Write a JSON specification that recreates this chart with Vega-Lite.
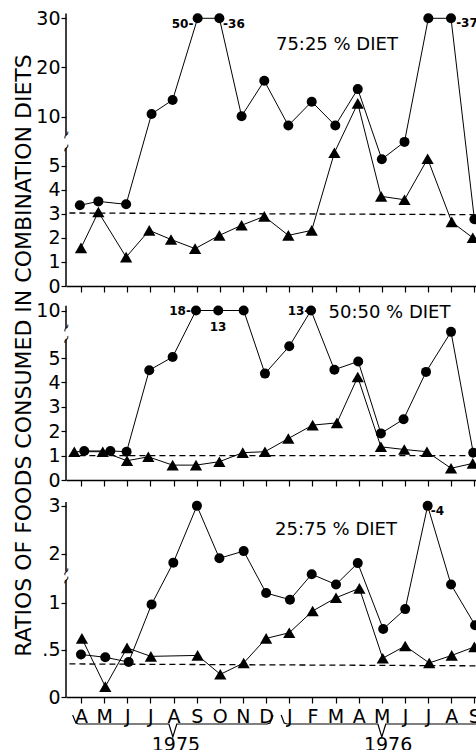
{
"$schema": "https://vega.github.io/schema/vega-lite/v6.json",
"autosize": {"type": "pad"},
"padding": {"left": 11, "top": 9, "right": 0, "bottom": 0},
"background": "white",
"spacing": 10,
"bounds": "flush",
"config": {
 "view": {"stroke": null},
 "font": "DejaVu Sans",
 "axis": {"grid": false, "labelFont": "DejaVu Sans", "titleFont": "DejaVu Sans", "labelColor": "black", "titleColor": "black", "tickColor": "black", "domainColor": "black", "labelFontSize": 19, "tickWidth": 1.2, "labelSeparation": 0},
 "axisX": {"tickSize": 6, "domainWidth": 1.5, "labelPadding": 4},
 "axisY": {"tickSize": 5, "domain": false, "labelPadding": 1}
},
"datasets": {
 "pts": [
  {"p":1,"s":"c","x":-0.05,"v":3.35},{"p":1,"s":"c","x":0.75,"v":3.51},{"p":1,"s":"c","x":1.95,"v":3.39},{"p":1,"s":"c","x":3.05,"v":10.55},{"p":1,"s":"c","x":3.96,"v":13.4},{"p":1,"s":"c","x":5.04,"v":30},{"p":1,"s":"c","x":5.98,"v":30},{"p":1,"s":"c","x":6.94,"v":10.1},{"p":1,"s":"c","x":7.92,"v":17.3},{"p":1,"s":"c","x":8.96,"v":8.2},{"p":1,"s":"c","x":9.97,"v":13.05},{"p":1,"s":"c","x":10.99,"v":8.2},{"p":1,"s":"c","x":11.96,"v":15.6},{"p":1,"s":"c","x":13.0,"v":5.26},{"p":1,"s":"c","x":13.98,"v":5.98},{"p":1,"s":"c","x":15.01,"v":30},{"p":1,"s":"c","x":15.99,"v":30},{"p":1,"s":"c","x":17.0,"v":2.77},
  {"p":1,"s":"t","x":0,"v":1.58},{"p":1,"s":"t","x":0.75,"v":3.07},{"p":1,"s":"t","x":1.95,"v":1.2},{"p":1,"s":"t","x":2.95,"v":2.31},{"p":1,"s":"t","x":3.89,"v":1.93},{"p":1,"s":"t","x":4.93,"v":1.55},{"p":1,"s":"t","x":5.98,"v":2.1},{"p":1,"s":"t","x":6.94,"v":2.52},{"p":1,"s":"t","x":7.92,"v":2.89},{"p":1,"s":"t","x":8.96,"v":2.1},{"p":1,"s":"t","x":9.97,"v":2.31},{"p":1,"s":"t","x":10.95,"v":5.53},{"p":1,"s":"t","x":11.96,"v":12.7},{"p":1,"s":"t","x":12.97,"v":3.72},{"p":1,"s":"t","x":13.98,"v":3.58},{"p":1,"s":"t","x":14.98,"v":5.28},{"p":1,"s":"t","x":16.02,"v":2.66},{"p":1,"s":"t","x":16.93,"v":2.0},
  {"p":2,"s":"c","x":0.14,"v":1.19},{"p":2,"s":"c","x":1.27,"v":1.19},{"p":2,"s":"c","x":1.97,"v":1.16},{"p":2,"s":"c","x":2.95,"v":4.5},{"p":2,"s":"c","x":3.96,"v":5.04},{"p":2,"s":"c","x":4.97,"v":10},{"p":2,"s":"c","x":5.93,"v":10},{"p":2,"s":"c","x":7.03,"v":10},{"p":2,"s":"c","x":7.95,"v":4.36},{"p":2,"s":"c","x":9.0,"v":5.48},{"p":2,"s":"c","x":9.94,"v":10},{"p":2,"s":"c","x":10.95,"v":4.52},{"p":2,"s":"c","x":11.98,"v":4.86},{"p":2,"s":"c","x":12.96,"v":1.91},{"p":2,"s":"c","x":13.94,"v":2.49},{"p":2,"s":"c","x":14.91,"v":4.43},{"p":2,"s":"c","x":15.99,"v":6.3},{"p":2,"s":"c","x":16.95,"v":1.12},
  {"p":2,"s":"t","x":-0.29,"v":1.16},{"p":2,"s":"t","x":0.94,"v":1.16},{"p":2,"s":"t","x":1.99,"v":0.79},{"p":2,"s":"t","x":2.91,"v":0.95},{"p":2,"s":"t","x":3.96,"v":0.61},{"p":2,"s":"t","x":4.97,"v":0.61},{"p":2,"s":"t","x":5.98,"v":0.75},{"p":2,"s":"t","x":6.99,"v":1.12},{"p":2,"s":"t","x":7.95,"v":1.16},{"p":2,"s":"t","x":8.96,"v":1.7},{"p":2,"s":"t","x":10.01,"v":2.25},{"p":2,"s":"t","x":11.06,"v":2.34},{"p":2,"s":"t","x":11.96,"v":4.22},{"p":2,"s":"t","x":12.96,"v":1.36},{"p":2,"s":"t","x":13.97,"v":1.25},{"p":2,"s":"t","x":14.95,"v":1.16},{"p":2,"s":"t","x":15.99,"v":0.48},{"p":2,"s":"t","x":16.93,"v":0.68},
  {"p":3,"s":"c","x":0,"v":0.45},{"p":3,"s":"c","x":1.05,"v":0.42},{"p":3,"s":"c","x":2.06,"v":0.37},{"p":3,"s":"c","x":3.05,"v":0.98},{"p":3,"s":"c","x":3.99,"v":1.82},{"p":3,"s":"c","x":5.01,"v":3.0},{"p":3,"s":"c","x":5.98,"v":1.91},{"p":3,"s":"c","x":7.03,"v":2.06},{"p":3,"s":"c","x":8.0,"v":1.1},{"p":3,"s":"c","x":9.03,"v":1.03},{"p":3,"s":"c","x":9.97,"v":1.48},{"p":3,"s":"c","x":11.02,"v":1.19},{"p":3,"s":"c","x":11.96,"v":1.81},{"p":3,"s":"c","x":13.06,"v":0.72},{"p":3,"s":"c","x":14.01,"v":0.93},{"p":3,"s":"c","x":14.98,"v":3.0},{"p":3,"s":"c","x":15.99,"v":1.19},{"p":3,"s":"c","x":17.03,"v":0.76},
  {"p":3,"s":"t","x":0.04,"v":0.62},{"p":3,"s":"t","x":1.05,"v":0.11},{"p":3,"s":"t","x":1.99,"v":0.52},{"p":3,"s":"t","x":3.02,"v":0.43},{"p":3,"s":"t","x":5.04,"v":0.44},{"p":3,"s":"t","x":6.02,"v":0.24},{"p":3,"s":"t","x":7.03,"v":0.36},{"p":3,"s":"t","x":8.0,"v":0.62},{"p":3,"s":"t","x":9.0,"v":0.68},{"p":3,"s":"t","x":10.01,"v":0.91},{"p":3,"s":"t","x":11.02,"v":1.05},{"p":3,"s":"t","x":12.03,"v":1.15},{"p":3,"s":"t","x":13.04,"v":0.41},{"p":3,"s":"t","x":14.01,"v":0.54},{"p":3,"s":"t","x":15.05,"v":0.36},{"p":3,"s":"t","x":16.02,"v":0.44},{"p":3,"s":"t","x":17.0,"v":0.53}
 ],
 "ref": [
  {"p":1,"x":-0.5,"v":3.03},{"p":1,"x":17.11,"v":2.96},
  {"p":2,"x":-0.5,"v":1.0},{"p":2,"x":17.11,"v":1.0},
  {"p":3,"x":-0.5,"v":0.35},{"p":3,"x":17.11,"v":0.33}
 ],
 "seg": [
  {"p":1,"lo":0,"hi":5.73},{"p":1,"lo":6.86,"hi":31.0},
  {"p":2,"lo":0,"hi":5.76},{"p":2,"lo":6.97,"hi":10.8},
  {"p":3,"lo":0,"hi":1.31},{"p":3,"lo":1.56,"hi":3.08}
 ],
 "brk": [
  {"p":1,"v":5.73},{"p":1,"v":6.86},
  {"p":2,"v":5.76},{"p":2,"v":6.97},
  {"p":3,"v":1.31},{"p":3,"v":1.56}
 ],
 "num": [
  {"p":1,"label":"50-","x":4.39,"v":28.8},{"p":1,"label":"-36","x":6.61,"v":28.8},{"p":1,"label":"-37","x":16.68,"v":29.0},
  {"p":2,"label":"18-","x":4.28,"v":10},{"p":2,"label":"13","x":5.92,"v":7.2},{"p":2,"label":"13-","x":9.4,"v":10},
  {"p":3,"label":"-4","x":15.4,"v":2.9}
 ],
 "diet": [
  {"p":1,"label":"75:25 % DIET","x":11.06,"v":24.6},
  {"p":2,"label":"50:50 % DIET","x":13.33,"v":9.57},
  {"p":3,"label":"25:75 % DIET","x":11.02,"v":2.5}
 ],
 "brace": [
  {"b":"1975","o":1,"x":-0.36,"v":0.84},{"b":"1975","o":2,"x":-0.22,"v":0.68},{"b":"1975","o":3,"x":-0.1,"v":0.66},{"b":"1975","o":4,"x":3.8,"v":0.66},{"b":"1975","o":5,"x":3.97,"v":0.4},{"b":"1975","o":6,"x":4.14,"v":0.66},{"b":"1975","o":7,"x":8.05,"v":0.66},{"b":"1975","o":8,"x":8.17,"v":0.68},{"b":"1975","o":9,"x":8.3,"v":0.84},
  {"b":"1976","o":1,"x":8.65,"v":0.84},{"b":"1976","o":2,"x":8.78,"v":0.68},{"b":"1976","o":3,"x":8.9,"v":0.66},{"b":"1976","o":4,"x":12.83,"v":0.66},{"b":"1976","o":5,"x":13.0,"v":0.4},{"b":"1976","o":6,"x":13.17,"v":0.66},{"b":"1976","o":7,"x":17.5,"v":0.66}
 ],
 "years": [
  {"label":"1975","x":4.1,"v":0.24},{"label":"1976","x":13.27,"v":0.24}
 ]
},
"vconcat": [
 {
  "width": 411, "height": 274,
  "layer": [
   {"data":{"name":"pts"},"transform":[{"filter":"datum.p==1"}],"mark":{"type":"line","strokeWidth":1,"color":"black","clip":true},
    "encoding":{
     "x":{"field":"x","type":"quantitative","scale":{"domain":[-0.648,17.113],"nice":false,"zero":false},"axis":{"values":[0,1,2,3,4,5,6,7,8,9,10,11,12,13,14,15,16,17],"labels":false,"labelOverlap":false,"labelFlush":false,"title":null}},
     "y":{"field":"v","type":"quantitative","scale":{"domain":[0,6,8,31.28],"range":[274,129.4,114.5,0],"nice":false,"zero":false},"axis":{"values":[0,1,2,3,4,5,10,20,30],"labelOverlap":false,"title":null}},
     "detail":{"field":"s"}}},
   {"data":{"name":"seg"},"transform":[{"filter":"datum.p==1"}],"mark":{"type":"rule","strokeWidth":1.5,"color":"black"},
    "encoding":{"x":{"datum":-0.648,"type":"quantitative","axis":{"values":[0,1,2,3,4,5,6,7,8,9,10,11,12,13,14,15,16,17],"labels":false,"labelOverlap":false,"labelFlush":false,"title":null}},"y":{"field":"lo","type":"quantitative","axis":{"values":[0,1,2,3,4,5,10,20,30],"labelOverlap":false,"title":null}},"y2":{"field":"hi"}}},
   {"data":{"name":"brk"},"transform":[{"filter":"datum.p==1"}],"mark":{"type":"text","text":"~","fontSize":12,"angle":300,"color":"black"},
    "encoding":{"x":{"datum":-0.648,"type":"quantitative","axis":{"values":[0,1,2,3,4,5,6,7,8,9,10,11,12,13,14,15,16,17],"labels":false,"labelOverlap":false,"labelFlush":false,"title":null}},"y":{"field":"v","type":"quantitative","axis":{"values":[0,1,2,3,4,5,10,20,30],"labelOverlap":false,"title":null}}}},
   {"data":{"name":"ref"},"transform":[{"filter":"datum.p==1"}],"mark":{"type":"line","strokeDash":[6,4],"strokeWidth":1.3,"color":"black"},
    "encoding":{"x":{"field":"x","type":"quantitative","axis":{"values":[0,1,2,3,4,5,6,7,8,9,10,11,12,13,14,15,16,17],"labels":false,"labelOverlap":false,"labelFlush":false,"title":null}},"y":{"field":"v","type":"quantitative","axis":{"values":[0,1,2,3,4,5,10,20,30],"labelOverlap":false,"title":null}}}},
   {"data":{"name":"pts"},"transform":[{"filter":"datum.p==1"}],"mark":{"type":"point","filled":true,"opacity":1,"color":"black","clip":true},
    "encoding":{"x":{"field":"x","type":"quantitative","axis":{"values":[0,1,2,3,4,5,6,7,8,9,10,11,12,13,14,15,16,17],"labels":false,"labelOverlap":false,"labelFlush":false,"title":null}},"y":{"field":"v","type":"quantitative","axis":{"values":[0,1,2,3,4,5,10,20,30],"labelOverlap":false,"title":null}},
     "shape":{"field":"s","type":"nominal","scale":{"domain":["c","t"],"range":["circle","triangle-up"]},"legend":null},
     "size":{"field":"s","type":"nominal","scale":{"domain":["c","t"],"range":[100,150]},"legend":null}}},
   {"data":{"name":"num"},"transform":[{"filter":"datum.p==1"}],"mark":{"type":"text","color":"black","baseline":"middle","fontSize":12,"fontWeight":"bold","clip":true},
    "encoding":{"x":{"field":"x","type":"quantitative","axis":{"values":[0,1,2,3,4,5,6,7,8,9,10,11,12,13,14,15,16,17],"labels":false,"labelOverlap":false,"labelFlush":false,"title":null}},"y":{"field":"v","type":"quantitative","axis":{"values":[0,1,2,3,4,5,10,20,30],"labelOverlap":false,"title":null}},"text":{"field":"label"}}},
   {"data":{"name":"diet"},"transform":[{"filter":"datum.p==1"}],"mark":{"type":"text","color":"black","baseline":"middle","fontSize":18},
    "encoding":{"x":{"field":"x","type":"quantitative","axis":{"values":[0,1,2,3,4,5,6,7,8,9,10,11,12,13,14,15,16,17],"labels":false,"labelOverlap":false,"labelFlush":false,"title":null}},"y":{"field":"v","type":"quantitative","axis":{"values":[0,1,2,3,4,5,10,20,30],"labelOverlap":false,"title":null}},"text":{"field":"label"}}}
  ]
 },
 {
  "width": 411, "height": 184,
  "layer": [
   {"data":{"name":"pts"},"transform":[{"filter":"datum.p==2"}],"mark":{"type":"line","strokeWidth":1,"color":"black","clip":true},
    "encoding":{
     "x":{"field":"x","type":"quantitative","scale":{"domain":[-0.648,17.113],"nice":false,"zero":false},"axis":{"values":[0,1,2,3,4,5,6,7,8,9,10,11,12,13,14,15,16,17],"labels":false,"labelOverlap":false,"labelFlush":false,"title":null}},
     "y":{"field":"v","type":"quantitative","scale":{"domain":[0,6,10,12.5],"range":[184,37.6,14.5,0],"nice":false,"zero":false},"axis":{"values":[0,1,2,3,4,5,10],"labelOverlap":false,"title":"RATIOS OF FOODS CONSUMED IN COMBINATION DIETS","titleFontSize":22,"titleFontWeight":"normal","titleAngle":-90,"titleX":-43,"titleY":59,"titleAlign":"center","titleBaseline":"middle"}},
     "detail":{"field":"s"}}},
   {"data":{"name":"seg"},"transform":[{"filter":"datum.p==2"}],"mark":{"type":"rule","strokeWidth":1.5,"color":"black"},
    "encoding":{"x":{"datum":-0.648,"type":"quantitative","axis":{"values":[0,1,2,3,4,5,6,7,8,9,10,11,12,13,14,15,16,17],"labels":false,"labelOverlap":false,"labelFlush":false,"title":null}},"y":{"field":"lo","type":"quantitative","axis":{"values":[0,1,2,3,4,5,10],"labelOverlap":false,"title":"RATIOS OF FOODS CONSUMED IN COMBINATION DIETS","titleFontSize":22,"titleFontWeight":"normal","titleAngle":-90,"titleX":-43,"titleY":59,"titleAlign":"center","titleBaseline":"middle"}},"y2":{"field":"hi"}}},
   {"data":{"name":"brk"},"transform":[{"filter":"datum.p==2"}],"mark":{"type":"text","text":"~","fontSize":12,"angle":300,"color":"black"},
    "encoding":{"x":{"datum":-0.648,"type":"quantitative","axis":{"values":[0,1,2,3,4,5,6,7,8,9,10,11,12,13,14,15,16,17],"labels":false,"labelOverlap":false,"labelFlush":false,"title":null}},"y":{"field":"v","type":"quantitative","axis":{"values":[0,1,2,3,4,5,10],"labelOverlap":false,"title":"RATIOS OF FOODS CONSUMED IN COMBINATION DIETS","titleFontSize":22,"titleFontWeight":"normal","titleAngle":-90,"titleX":-43,"titleY":59,"titleAlign":"center","titleBaseline":"middle"}}}},
   {"data":{"name":"ref"},"transform":[{"filter":"datum.p==2"}],"mark":{"type":"line","strokeDash":[6,4],"strokeWidth":1.3,"color":"black"},
    "encoding":{"x":{"field":"x","type":"quantitative","axis":{"values":[0,1,2,3,4,5,6,7,8,9,10,11,12,13,14,15,16,17],"labels":false,"labelOverlap":false,"labelFlush":false,"title":null}},"y":{"field":"v","type":"quantitative","axis":{"values":[0,1,2,3,4,5,10],"labelOverlap":false,"title":"RATIOS OF FOODS CONSUMED IN COMBINATION DIETS","titleFontSize":22,"titleFontWeight":"normal","titleAngle":-90,"titleX":-43,"titleY":59,"titleAlign":"center","titleBaseline":"middle"}}}},
   {"data":{"name":"pts"},"transform":[{"filter":"datum.p==2"}],"mark":{"type":"point","filled":true,"opacity":1,"color":"black","clip":true},
    "encoding":{"x":{"field":"x","type":"quantitative","axis":{"values":[0,1,2,3,4,5,6,7,8,9,10,11,12,13,14,15,16,17],"labels":false,"labelOverlap":false,"labelFlush":false,"title":null}},"y":{"field":"v","type":"quantitative","axis":{"values":[0,1,2,3,4,5,10],"labelOverlap":false,"title":"RATIOS OF FOODS CONSUMED IN COMBINATION DIETS","titleFontSize":22,"titleFontWeight":"normal","titleAngle":-90,"titleX":-43,"titleY":59,"titleAlign":"center","titleBaseline":"middle"}},
     "shape":{"field":"s","type":"nominal","scale":{"domain":["c","t"],"range":["circle","triangle-up"]},"legend":null},
     "size":{"field":"s","type":"nominal","scale":{"domain":["c","t"],"range":[100,150]},"legend":null}}},
   {"data":{"name":"num"},"transform":[{"filter":"datum.p==2"}],"mark":{"type":"text","color":"black","baseline":"middle","fontSize":12,"fontWeight":"bold","clip":true},
    "encoding":{"x":{"field":"x","type":"quantitative","axis":{"values":[0,1,2,3,4,5,6,7,8,9,10,11,12,13,14,15,16,17],"labels":false,"labelOverlap":false,"labelFlush":false,"title":null}},"y":{"field":"v","type":"quantitative","axis":{"values":[0,1,2,3,4,5,10],"labelOverlap":false,"title":"RATIOS OF FOODS CONSUMED IN COMBINATION DIETS","titleFontSize":22,"titleFontWeight":"normal","titleAngle":-90,"titleX":-43,"titleY":59,"titleAlign":"center","titleBaseline":"middle"}},"text":{"field":"label"}}},
   {"data":{"name":"diet"},"transform":[{"filter":"datum.p==2"}],"mark":{"type":"text","color":"black","baseline":"middle","fontSize":18},
    "encoding":{"x":{"field":"x","type":"quantitative","axis":{"values":[0,1,2,3,4,5,6,7,8,9,10,11,12,13,14,15,16,17],"labels":false,"labelOverlap":false,"labelFlush":false,"title":null}},"y":{"field":"v","type":"quantitative","axis":{"values":[0,1,2,3,4,5,10],"labelOverlap":false,"title":"RATIOS OF FOODS CONSUMED IN COMBINATION DIETS","titleFontSize":22,"titleFontWeight":"normal","titleAngle":-90,"titleX":-43,"titleY":59,"titleAlign":"center","titleBaseline":"middle"}},"text":{"field":"label"}}}
  ]
 },
 {
  "width": 411, "height": 207,
  "layer": [
   {"data":{"name":"pts"},"transform":[{"filter":"datum.p==3"}],"mark":{"type":"line","strokeWidth":1,"color":"black","clip":true},
    "encoding":{
     "x":{"field":"x","type":"quantitative","scale":{"domain":[-0.648,17.113],"nice":false,"zero":false},"axis":{"values":[0,1,2,3,4,5,6,7,8,9,10,11,12,13,14,15,16,17],"labelExpr":"['A','M','J','J','A','S','O','N','D','J','F','M','A','M','J','J','A','S'][datum.value]","labelOverlap":false,"labelFlush":false,"title":null}},
     "y":{"field":"v","type":"quantitative","scale":{"domain":[0,1.2,1.8,3.33],"range":[207,93.6,73.6,0],"nice":false,"zero":false},"axis":{"values":[0,0.5,1,2,3],"labelExpr":"datum.value == 0.5 ? '.5' : '' + datum.value","labelOverlap":false,"title":null}},
     "detail":{"field":"s"}}},
   {"data":{"name":"seg"},"transform":[{"filter":"datum.p==3"}],"mark":{"type":"rule","strokeWidth":1.5,"color":"black"},
    "encoding":{"x":{"datum":-0.648,"type":"quantitative","axis":{"values":[0,1,2,3,4,5,6,7,8,9,10,11,12,13,14,15,16,17],"labelExpr":"['A','M','J','J','A','S','O','N','D','J','F','M','A','M','J','J','A','S'][datum.value]","labelOverlap":false,"labelFlush":false,"title":null}},"y":{"field":"lo","type":"quantitative","axis":{"values":[0,0.5,1,2,3],"labelExpr":"datum.value == 0.5 ? '.5' : '' + datum.value","labelOverlap":false,"title":null}},"y2":{"field":"hi"}}},
   {"data":{"name":"brk"},"transform":[{"filter":"datum.p==3"}],"mark":{"type":"text","text":"~","fontSize":12,"angle":300,"color":"black"},
    "encoding":{"x":{"datum":-0.648,"type":"quantitative","axis":{"values":[0,1,2,3,4,5,6,7,8,9,10,11,12,13,14,15,16,17],"labelExpr":"['A','M','J','J','A','S','O','N','D','J','F','M','A','M','J','J','A','S'][datum.value]","labelOverlap":false,"labelFlush":false,"title":null}},"y":{"field":"v","type":"quantitative","axis":{"values":[0,0.5,1,2,3],"labelExpr":"datum.value == 0.5 ? '.5' : '' + datum.value","labelOverlap":false,"title":null}}}},
   {"data":{"name":"ref"},"transform":[{"filter":"datum.p==3"}],"mark":{"type":"line","strokeDash":[6,4],"strokeWidth":1.3,"color":"black"},
    "encoding":{"x":{"field":"x","type":"quantitative","axis":{"values":[0,1,2,3,4,5,6,7,8,9,10,11,12,13,14,15,16,17],"labelExpr":"['A','M','J','J','A','S','O','N','D','J','F','M','A','M','J','J','A','S'][datum.value]","labelOverlap":false,"labelFlush":false,"title":null}},"y":{"field":"v","type":"quantitative","axis":{"values":[0,0.5,1,2,3],"labelExpr":"datum.value == 0.5 ? '.5' : '' + datum.value","labelOverlap":false,"title":null}}}},
   {"data":{"name":"pts"},"transform":[{"filter":"datum.p==3"}],"mark":{"type":"point","filled":true,"opacity":1,"color":"black","clip":true},
    "encoding":{"x":{"field":"x","type":"quantitative","axis":{"values":[0,1,2,3,4,5,6,7,8,9,10,11,12,13,14,15,16,17],"labelExpr":"['A','M','J','J','A','S','O','N','D','J','F','M','A','M','J','J','A','S'][datum.value]","labelOverlap":false,"labelFlush":false,"title":null}},"y":{"field":"v","type":"quantitative","axis":{"values":[0,0.5,1,2,3],"labelExpr":"datum.value == 0.5 ? '.5' : '' + datum.value","labelOverlap":false,"title":null}},
     "shape":{"field":"s","type":"nominal","scale":{"domain":["c","t"],"range":["circle","triangle-up"]},"legend":null},
     "size":{"field":"s","type":"nominal","scale":{"domain":["c","t"],"range":[100,150]},"legend":null}}},
   {"data":{"name":"num"},"transform":[{"filter":"datum.p==3"}],"mark":{"type":"text","color":"black","baseline":"middle","fontSize":12,"fontWeight":"bold","clip":true},
    "encoding":{"x":{"field":"x","type":"quantitative","axis":{"values":[0,1,2,3,4,5,6,7,8,9,10,11,12,13,14,15,16,17],"labelExpr":"['A','M','J','J','A','S','O','N','D','J','F','M','A','M','J','J','A','S'][datum.value]","labelOverlap":false,"labelFlush":false,"title":null}},"y":{"field":"v","type":"quantitative","axis":{"values":[0,0.5,1,2,3],"labelExpr":"datum.value == 0.5 ? '.5' : '' + datum.value","labelOverlap":false,"title":null}},"text":{"field":"label"}}},
   {"data":{"name":"diet"},"transform":[{"filter":"datum.p==3"}],"mark":{"type":"text","color":"black","baseline":"middle","fontSize":18},
    "encoding":{"x":{"field":"x","type":"quantitative","axis":{"values":[0,1,2,3,4,5,6,7,8,9,10,11,12,13,14,15,16,17],"labelExpr":"['A','M','J','J','A','S','O','N','D','J','F','M','A','M','J','J','A','S'][datum.value]","labelOverlap":false,"labelFlush":false,"title":null}},"y":{"field":"v","type":"quantitative","axis":{"values":[0,0.5,1,2,3],"labelExpr":"datum.value == 0.5 ? '.5' : '' + datum.value","labelOverlap":false,"title":null}},"text":{"field":"label"}}}
  ]
 },
 {
  "width": 411, "height": 50,
  "layer": [
   {"data":{"name":"brace"},"mark":{"type":"line","strokeWidth":1.2,"color":"black","clip":true},
    "encoding":{"x":{"field":"x","type":"quantitative","scale":{"domain":[-0.648,17.113],"nice":false,"zero":false},"axis":null},
     "y":{"field":"v","type":"quantitative","scale":{"domain":[0,1],"nice":false},"axis":null},
     "detail":{"field":"b"},"order":{"field":"o"}}},
   {"data":{"name":"years"},"mark":{"type":"text","fontSize":19,"color":"black","baseline":"middle"},
    "encoding":{"x":{"field":"x","type":"quantitative","axis":null},"y":{"field":"v","type":"quantitative","axis":null},"text":{"field":"label"}}}
  ]
 }
]
}
